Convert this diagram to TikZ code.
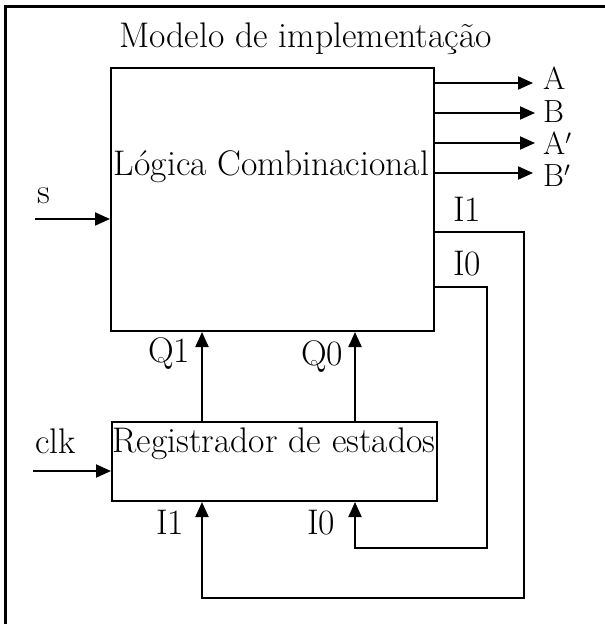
\documentclass[tikz,border=0pt]{standalone}
\usetikzlibrary{arrows.meta}
\begin{document}
\begin{tikzpicture}[x=1pt,y=-1pt,
  box/.style={draw, line width=2pt, minimum width=#1, inner sep=0pt},
  txt/.style={inner sep=0pt, font=\fontsize{35.6}{42}\selectfont},
  outlab/.style={inner sep=0pt, anchor=base west, font=\fontsize{32}{38}\selectfont},
  conn/.style={line width=2pt},
  arr/.style={line width=2pt, -{Triangle[length=15pt,width=13pt]}},
  frame/.style={line width=3pt}]
\useasboundingbox[fill=white] (0,0) rectangle (605,624);
% outer frame (only top and left visible)
\coordinate (fbl) at (5.5,625);
\coordinate (ftl) at (5.5,6.5);
\coordinate (ftr) at (605,6.5);
\draw[frame] (fbl) -- (ftl) -- (ftr);
% boxes
\node[box=323pt, minimum height=263pt] (logic) at (272.5,199.5) {};
\node[box=325pt, minimum height=79pt] (reg) at (274.5,461.5) {};
% texts
\node[txt, anchor=base west] (title) at (119,47) {Modelo de implementação};
\node[txt, anchor=base] (logictext) at (271.5,175) {Lógica Combinacional};
\node[txt, anchor=base] (regtext) at (274,452) {Registrador de estados};
\node[txt, anchor=base west] (slab) at (37,203) {s};
\node[txt, anchor=base west] (clklab) at (35,453) {clk};
\node[outlab] (Alab) at (543,89) {A};
\node[outlab] (Blab) at (543,122) {B};
\node[outlab] (Aplab) at (543,154) {A$'$};
\node[outlab] (Bplab) at (543,186) {B$'$};
\node[txt, anchor=base west] (I1top) at (453,221) {I1};
\node[txt, anchor=base west] (I0top) at (453,275) {I0};
\node[txt, anchor=base west] (Q1lab) at (148,362) {Q1};
\node[txt, anchor=base west] (Q0lab) at (301,365) {Q0};
\node[txt, anchor=base west] (I1bot) at (156,534) {I1};
\node[txt, anchor=base west] (I0bot) at (307,534) {I0};
% coordinates
\coordinate (sin) at (35,219);
\coordinate (clkin) at (33,471);
\coordinate (oA) at (533,83);
\coordinate (oB) at (535,113);
\coordinate (oAp) at (535,143);
\coordinate (oBp) at (533,173);
\coordinate (q1x) at (202,0);
\coordinate (q0x) at (355,0);
\coordinate (f1a) at (524,232);
\coordinate (f1b) at (524,598);
\coordinate (f1c) at (202,598);
\coordinate (f0a) at (487,287);
\coordinate (f0b) at (487,548);
\coordinate (f0c) at (355,548);
% inputs
\draw[arr] (sin) -- (sin -| logic.west);
\draw[arr] (clkin) -- (clkin -| reg.west);
% outputs
\draw[arr] (oA -| logic.east) -- (oA);
\draw[arr] (oB -| logic.east) -- (oB);
\draw[arr] (oAp -| logic.east) -- (oAp);
\draw[arr] (oBp -| logic.east) -- (oBp);
% state to logic
\draw[arr] (q1x |- reg.north) -- (q1x |- logic.south);
\draw[arr] (q0x |- reg.north) -- (q0x |- logic.south);
% feedback
\draw[arr, line join=miter] (f1a -| logic.east) -- (f1a) -- (f1b) -- (f1c) -- (f1c |- reg.south);
\draw[arr, line join=miter] (f0a -| logic.east) -- (f0a) -- (f0b) -- (f0c) -- (f0c |- reg.south);
\end{tikzpicture}
\end{document}
